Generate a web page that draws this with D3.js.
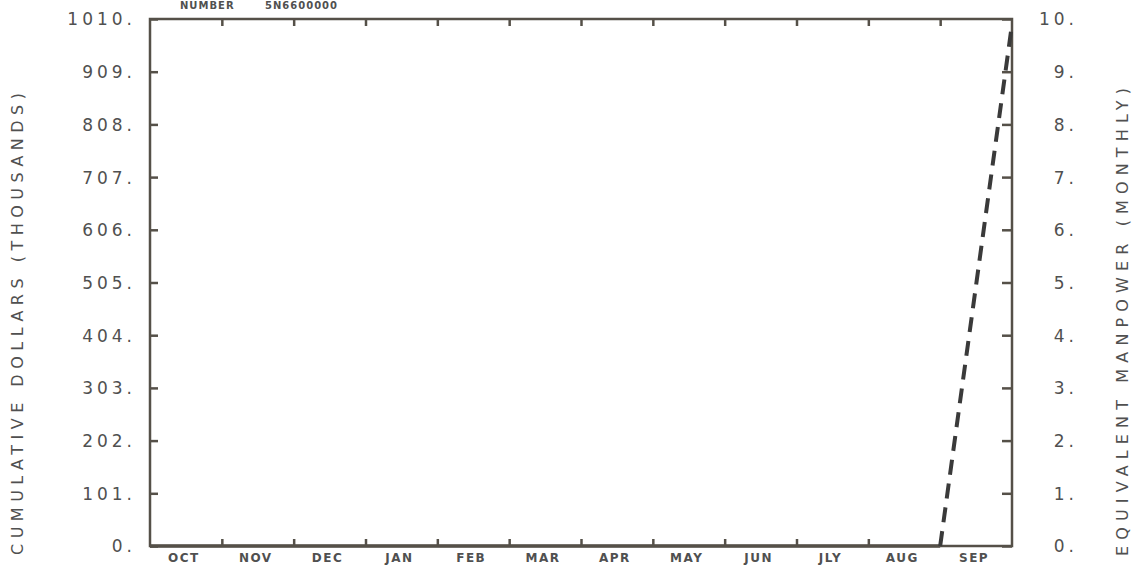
<!DOCTYPE html>
<html>
<head>
<meta charset="utf-8">
<script src="https://cdn.jsdelivr.net/npm/d3@7/dist/d3.min.js"></script>
<style>
  html, body { margin: 0; padding: 0; background: #ffffff; }
  svg { display: block; }
  text { font-family: "DejaVu Sans", Verdana, sans-serif; fill: #505050; }
</style>
</head>
<body>
<svg id="chart" width="1134" height="569"></svg>
<script>
// ---- data ----
const months = ["OCT","NOV","DEC","JAN","FEB","MAR","APR","MAY","JUN","JLY","AUG","SEP"];
const dollarTicks = [0,101,202,303,404,505,606,707,808,909,1010];
const manpowerTicks = [0,1,2,3,4,5,6,7,8,9,10];
// cumulative dollars (thousands) at month boundaries (index 0 = start of OCT)
const actualBoundaries = [0,1,2,3,4,5,6,7,8,9,10,11];
const actualDollars    = [0,0,0,0,0,0,0,0,0,0,0,0];
const plannedBoundaries = [11,12];
const plannedDollars    = [0,1000];
const headerLabel = "NUMBER";
const headerValue = "5N6600000";
const leftTitle = "CUMULATIVE DOLLARS (THOUSANDS)";
const rightTitle = "EQUIVALENT MANPOWER (MONTHLY)";

// ---- layout ----
const L = 150, R = 1012, T = 19, B = 546;
const svg = d3.select("#chart");
const ink = "#555048";

const x = d3.scaleLinear().domain([0, months.length]).range([L, R]);
const yL = d3.scaleLinear().domain([0, 1010]).range([B, T]);
const yR = d3.scaleLinear().domain([0, 10]).range([B, T]);

// frame
svg.append("rect").attr("x", L).attr("y", T).attr("width", R - L).attr("height", B - T)
  .attr("fill", "none").attr("stroke", ink).attr("stroke-width", 2.5);

// left axis (ticks inward)
const leftAxis = d3.axisLeft(yL).tickValues(dollarTicks).tickSize(-8).tickPadding(14)
  .tickFormat(d => d + ".");
const gl = svg.append("g").attr("transform", `translate(${L},0)`).call(leftAxis);
// right axis (ticks inward)
const rightAxis = d3.axisRight(yR).tickValues(manpowerTicks).tickSize(-10).tickPadding(0)
  .tickFormat(d => d + ".");
const gr = svg.append("g").attr("transform", `translate(${R},0)`).call(rightAxis);
// bottom/top axes: month boundary ticks inward
const boundaries = d3.range(1, months.length);
const bottomAxis = d3.axisBottom(x).tickValues(boundaries).tickSize(-7).tickFormat("");
svg.append("g").attr("transform", `translate(0,${B})`).call(bottomAxis);
const topAxis = d3.axisTop(x).tickValues(boundaries).tickSize(-7).tickFormat("");
svg.append("g").attr("transform", `translate(0,${T})`).call(topAxis);

svg.selectAll("g .domain").remove();
svg.selectAll("g .tick line").attr("stroke", ink).attr("stroke-width", 2.5);

gl.selectAll(".tick text").attr("font-size", 17).attr("letter-spacing", "4px")
  .style("font-family", "DejaVu Sans").attr("fill", "#505050").attr("dy", "0.35em");
gr.selectAll(".tick text").attr("font-size", 17).attr("letter-spacing", "4px")
  .style("font-family", "DejaVu Sans").attr("fill", "#505050")
  .attr("text-anchor", "end").attr("x", 66).attr("dy", "0.35em");

// month labels
svg.append("g").selectAll("text").data(months).join("text")
  .attr("x", (d, i) => x(i + 0.5) - 2)
  .attr("y", B + 16)
  .attr("text-anchor", "middle")
  .attr("font-size", 12).attr("font-weight", "bold").attr("letter-spacing", "1.5px")
  .text(d => d);

// header
svg.append("text").attr("x", 180).attr("y", 9).attr("font-size", 10).attr("font-weight", "bold")
  .attr("letter-spacing", "1px").text(headerLabel);
svg.append("text").attr("x", 265).attr("y", 9).attr("font-size", 10).attr("font-weight", "bold")
  .attr("letter-spacing", "1px").text(headerValue);

// axis titles
svg.append("text").attr("transform", "translate(23,324) rotate(-90)")
  .attr("text-anchor", "middle").attr("font-size", 16)
  .attr("textLength", 462).attr("lengthAdjust", "spacing").text(leftTitle);
svg.append("text").attr("transform", "translate(1128,322) rotate(-90)")
  .attr("text-anchor", "middle").attr("font-size", 16)
  .attr("textLength", 468).attr("lengthAdjust", "spacing").text(rightTitle);

// series
const line = d3.line().x(d => x(d[0])).y(d => yL(d[1]));
svg.append("path").datum(d3.zip(actualBoundaries, actualDollars))
  .attr("d", line).attr("fill", "none").attr("stroke", ink).attr("stroke-width", 3.5);
svg.append("path").datum(d3.zip(plannedBoundaries, plannedDollars))
  .attr("d", line).attr("fill", "none").attr("stroke", "#3a3a3a").attr("stroke-width", 4)
  .attr("stroke-dasharray", "15,9");
</script>
</body>
</html>
